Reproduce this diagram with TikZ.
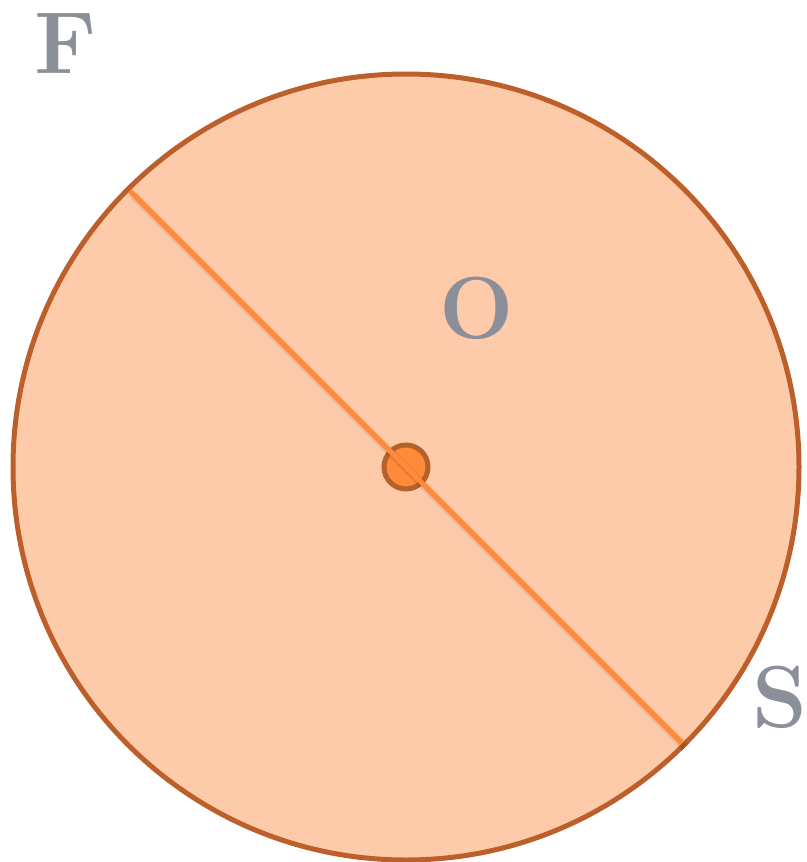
\documentclass[tikz,border=0pt]{standalone}
\usetikzlibrary{calc}
\definecolor{discfill}{HTML}{FECBAA}
\definecolor{discedge}{HTML}{BC5F2A}
\definecolor{lineor}{HTML}{FF8A3A}
\definecolor{dotedge}{HTML}{B5612C}
\definecolor{labgray}{HTML}{8A8F99}
\tikzset{
  lab/.style={text=labgray, font=\fontsize{88}{88}\selectfont\bfseries, inner sep=0pt},
  disc/.style={circle, fill=discfill, draw=discedge, line width=5pt, minimum size=786pt, inner sep=0pt},
  cdot/.style={circle, fill=lineor, draw=dotedge, line width=5pt, minimum size=44pt, inner sep=0pt},
  diam/.style={draw=lineor, line width=5pt},
  diamshadow/.style={draw=black, opacity=0.06, line width=9pt}
}
\begin{document}
\begin{tikzpicture}[x=1pt,y=-1pt]
\useasboundingbox (0,0) rectangle (806,862);
\node[disc] (c) at (406,467) {};
\node[cdot] (o) at (406,467) {};
\coordinate (p1) at ($(c)+(225:390.5)$);
\coordinate (p2) at ($(c)+(45:390.5)$);
\draw[diamshadow] ($(p1)+(4,5)$) -- ($(p2)+(4,5)$);
\draw[diamshadow, line width=6pt] ($(p1)+(3,4)$) -- ($(p2)+(3,4)$);
\draw[diam] (p1) -- (p2);
\node[lab] (F) at (66,44) {F};
\node[lab] (O) at (477,308) {O};
\node[lab] (S) at (780,697) {S};
\end{tikzpicture}
\end{document}
